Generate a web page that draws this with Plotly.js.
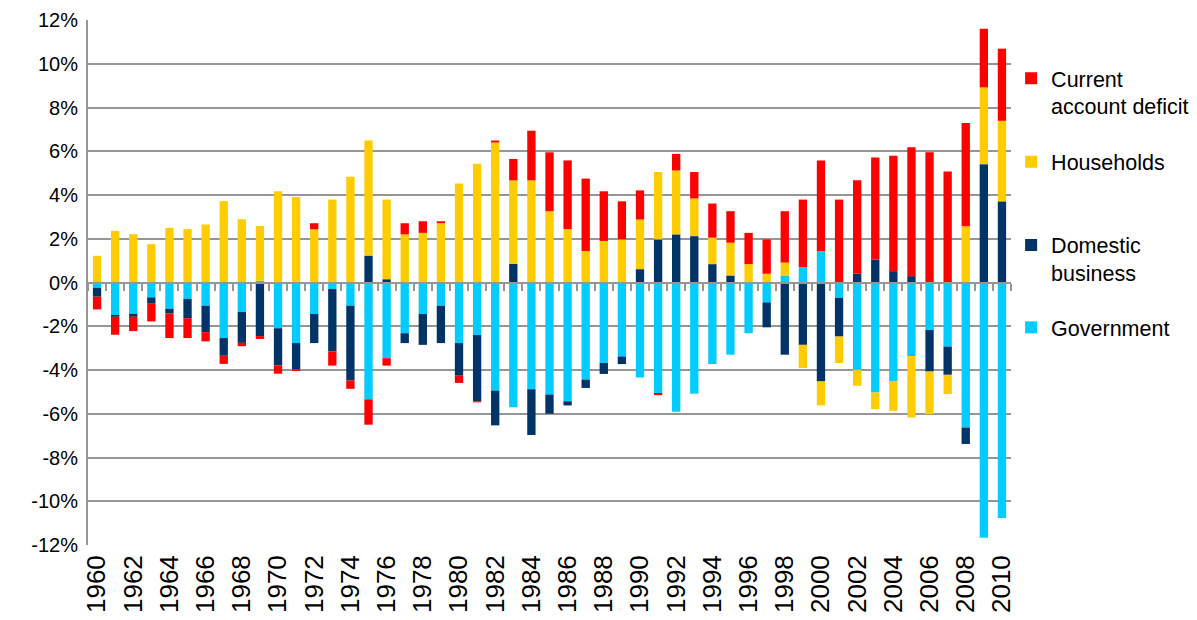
<!DOCTYPE html>
<html>
<head>
<meta charset="utf-8">
<script src="https://cdn.plot.ly/plotly-3.0.1.min.js"></script>
<style>html,body{margin:0;padding:0;background:#fff;}#chart{width:1197px;height:620px;}</style>
</head>
<body>
<div id="chart"></div>
<script>
const years = [1960,1961,1962,1963,1964,1965,1966,1967,1968,1969,1970,1971,1972,1973,1974,1975,1976,1977,1978,1979,1980,1981,1982,1983,1984,1985,1986,1987,1988,1989,1990,1991,1992,1993,1994,1995,1996,1997,1998,1999,2000,2001,2002,2003,2004,2005,2006,2007,2008,2009,2010];
const government = [-0.24,-1.48,-1.43,-0.68,-1.20,-0.75,-1.06,-2.54,-1.35,0.08,-2.09,-2.77,-1.44,-0.30,-1.06,-5.34,-3.46,-2.32,-1.44,-1.06,-2.77,-2.40,-4.94,-5.70,-4.88,-5.12,-5.43,-4.44,-3.68,-3.38,-4.34,-5.05,-5.91,-5.08,-3.73,-3.30,-2.32,-0.91,0.32,0.70,1.44,-0.70,-3.99,-5.03,-4.50,-3.36,-2.17,-2.93,-6.63,-11.67,-10.76];
const business = [-0.41,-0.09,-0.14,-0.29,-0.22,-0.88,-1.21,-0.81,-1.41,-2.45,-1.70,-1.21,-1.33,-2.85,-3.42,1.23,0.15,-0.45,-1.41,-1.71,-1.49,-3.03,-1.59,0.85,-2.09,-0.88,-0.19,-0.38,-0.50,-0.35,0.61,1.97,2.20,2.12,0.84,0.32,0.00,-1.14,-3.30,-2.85,-4.52,-1.77,0.40,1.05,0.52,0.29,-1.90,-1.29,-0.75,5.41,3.71];
const households = [1.22,2.36,2.21,1.75,2.50,2.44,2.65,3.72,2.89,2.50,4.17,3.91,2.43,3.79,4.84,5.26,3.64,2.20,2.27,2.71,4.53,5.43,6.40,3.82,4.67,3.26,2.44,1.44,1.90,1.97,2.27,3.08,2.92,1.72,1.21,1.50,0.84,0.40,0.59,-1.06,-1.10,-1.21,-0.73,-0.76,-1.37,-2.81,-1.95,-0.88,2.57,3.51,3.68];
const currentAccountDeficit = [-0.58,-0.82,-0.65,-0.81,-1.12,-0.91,-0.42,-0.37,-0.15,-0.13,-0.38,-0.06,0.28,-0.65,-0.38,-1.16,-0.34,0.51,0.53,0.09,-0.33,-0.05,0.09,0.98,2.27,2.69,3.14,3.31,2.27,1.74,1.33,-0.10,0.76,1.21,1.56,1.44,1.43,1.57,2.35,3.09,4.14,3.79,4.27,4.67,5.28,5.89,5.95,5.07,4.72,2.68,3.30];
const seriesNames = ["Government","Domestic<br>business","Households","Current<br>account deficit"];
const seriesColors = ["#00CCFF","#003366","#FFCC00","#FF0000"];
const yTickVals = [-12,-10,-8,-6,-4,-2,0,2,4,6,8,10,12];
const yTickText = yTickVals.map(v => v + "%");
const xCats = years.map(String);
const xTickVals = years.filter(y => y % 2 === 0).map(String);

const seriesValues = [government, business, households, currentAccountDeficit];
const legendIds = ["legend4","legend3","legend2","legend"];
const traces = seriesValues.map((vals, i) => ({
  type: "bar",
  x: xCats,
  y: vals,
  name: seriesNames[i],
  marker: {color: seriesColors[i], line: {width: 0}},
  legend: legendIds[i],
  hoverinfo: "x+y+name"
}));
// helper trace to carry the zero-crossing category axis with its boundary ticks
traces.push({
  type: "scatter", mode: "none", x: xCats, y: xCats.map(() => 0),
  xaxis: "x2", showlegend: false, hoverinfo: "skip"
});

const family = "Liberation Sans, Arial, sans-serif";
const font = {family: family, size: 20, color: "#000"};
const legFont = {family: family, size: 21.5, color: "#000"};
function leg(y) {
  return {xref: "container", yref: "container", x: 0.8447, xanchor: "left", y: y, yanchor: "top", valign: "top",
          font: legFont, bgcolor: "rgba(0,0,0,0)", borderwidth: 0, itemclick: false};
}
const layout = {
  width: 1197, height: 620,
  margin: {l: 88, r: 186, t: 20, b: 75},
  paper_bgcolor: "#fff", plot_bgcolor: "#fff",
  barmode: "relative", bargap: 0.54,
  font: font,
  showlegend: true,
  legend: leg(0.907),
  legend2: leg(0.772),
  legend3: leg(0.638),
  legend4: leg(0.505),
  xaxis: {
    type: "category", categoryorder: "array", categoryarray: xCats,
    range: [-0.5, 50.5],
    tickmode: "array", tickvals: xTickVals, ticktext: xTickVals,
    tickangle: -90, ticks: "", showgrid: false, showline: false, zeroline: false,
    ticklabelstandoff: 4,
    tickfont: {family: family, size: 26, color: "#000"}
  },
  xaxis2: {
    type: "category", categoryorder: "array", categoryarray: xCats,
    range: [-0.5, 50.5], overlaying: "x", anchor: "free", position: 0.5,
    tickson: "boundaries", ticks: "outside", ticklen: 7, tickwidth: 2, tickcolor: "#969696",
    showticklabels: false, showgrid: false, zeroline: false,
    showline: true, linecolor: "#969696", linewidth: 2
  },
  yaxis: {
    range: [-12, 12], tickmode: "array", tickvals: yTickVals, ticktext: yTickText,
    showgrid: true, gridcolor: "#969696", gridwidth: 2,
    zeroline: false, showline: true, linecolor: "#969696", linewidth: 2,
    ticks: "", ticklabelstandoff: 4, tickfont: font
  }
};
Plotly.newPlot("chart", traces, layout, {displayModeBar: false, staticPlot: true});
</script>
</body>
</html>
